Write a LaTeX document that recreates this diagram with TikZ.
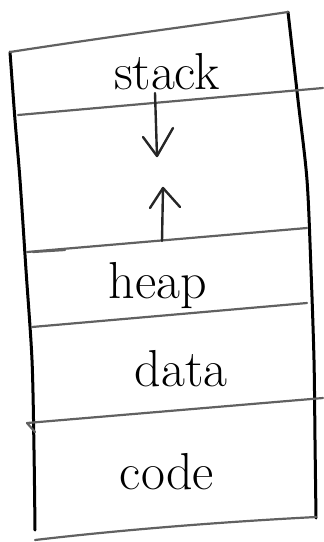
\documentclass[tikz,border=0pt]{standalone}
\begin{document}
\begin{tikzpicture}[x=1pt,y=-1pt,
  wall/.style={line width=3pt,black,line cap=round,line join=round},
  shelf/.style={line width=2.2pt,black!62,line cap=round},
  pen/.style={line width=2.4pt,black!85,line cap=round,line join=round},
  label/.style={anchor=base,inner sep=0pt,font=\fontsize{52}{52}\selectfont}]
\useasboundingbox (0,0) rectangle (324,542);
% outer walls of the memory block
\draw[wall] plot[smooth] coordinates {(10,52) (15,120) (20,180) (26,270) (32,360) (34,450) (35,530)};
\draw[wall] plot[smooth] coordinates {(288,12) (298,100) (307,180) (311,270) (314,360) (315,440) (316,518)};
% horizontal dividers
\draw[shelf] (10,52) .. controls (120,35) and (200,25) .. (288,12);
\draw[shelf] (18,115) -- (323,88);
\draw[shelf] (27,252) -- (307,228);
\draw[shelf] (33,252) -- (65,250);
\draw[shelf] (32,327) -- (307,303);
\draw[shelf] (27,423) -- (323,398);
\draw[shelf] (27,423) -- (35,432);
\draw[shelf] (35,540) .. controls (120,530) and (220,522) .. (316,517);
% segment labels
\node[label] (stack) at (167,89) {stack};
\node[label] (heap) at (158,298) {heap};
\node[label] (data) at (181,386) {data};
\node[label] (code) at (167,489) {code};
% growth arrows
\coordinate (sdn0) at (155,93);
\coordinate (sdn1) at (157,156);
\coordinate (hup0) at (162,241);
\coordinate (hup1) at (163,188);
\draw[pen] (sdn0) -- (sdn1);
\draw[pen] (143,137) -- (sdn1) -- (173,128);
\draw[pen] (hup0) -- (hup1);
\draw[pen] (150,208) -- (hup1) -- (180,207);
\end{tikzpicture}
\end{document}
